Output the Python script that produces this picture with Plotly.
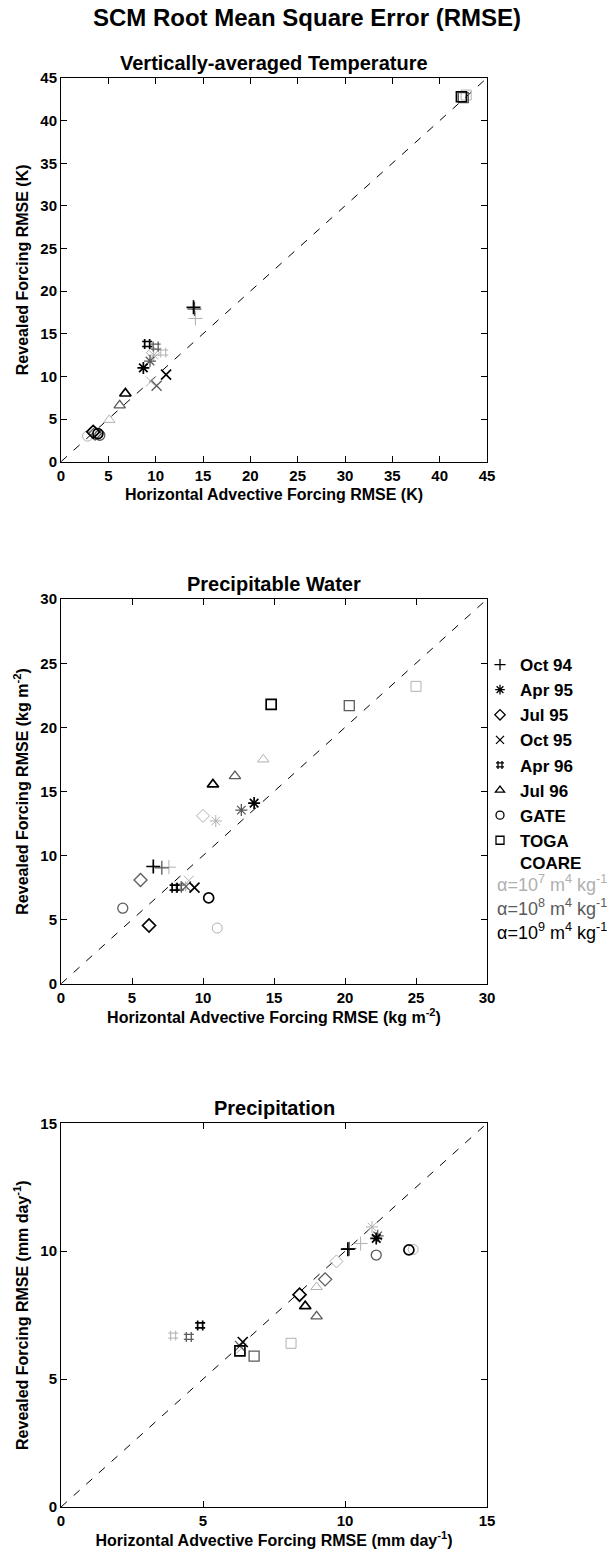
import plotly.graph_objects as go

# Cases shown in every panel (legend order) and their marker symbols
CASES = ["Oct 94", "Apr 95", "Jul 95", "Oct 95", "Apr 96", "Jul 96", "GATE", "TOGA<br>COARE"]
SYMBOLS = ["cross-thin-open", "asterisk-open", "diamond-open", "x-thin-open",
           "hash-open", "triangle-up-open", "circle-open", "square-open"]

# Vertically-averaged temperature RMSE (K): x = horizontal advective forcing, y = revealed forcing
temp_x_a7 = [14.2, 9.8, 9.7, 9.5, 10.8, 5.1, 2.8, 42.8]
temp_y_a7 = [16.8, 12.5, 12.8, 9.4, 12.8, 4.9, 3.0, 43.0]
temp_x_a8 = [14.1, 9.4, 3.6, 10.1, 10.0, 6.2, 4.1, 42.5]
temp_y_a8 = [17.9, 11.8, 3.3, 8.9, 13.5, 6.6, 3.1, 42.7]
temp_x_a9 = [14.0, 8.7, 3.4, 11.1, 9.1, 6.8, 3.9, 42.3]
temp_y_a9 = [18.1, 11.0, 3.5, 10.2, 13.8, 8.0, 3.3, 42.8]

# Precipitable water RMSE (kg m-2)
pw_x_a7 = [7.6, 10.9, 10.0, 9.0, 8.6, 14.25, 11.0, 25.0]
pw_y_a7 = [9.1, 12.7, 13.1, 8.05, 7.6, 17.5, 4.35, 23.2]
pw_x_a8 = [7.1, 12.7, 5.6, 8.8, 8.3, 12.25, 4.35, 20.3]
pw_y_a8 = [9.05, 13.55, 8.1, 7.6, 7.5, 16.2, 5.9, 21.7]
pw_x_a9 = [6.5, 13.6, 6.2, 9.4, 8.0, 10.7, 10.4, 14.8]
pw_y_a9 = [9.15, 14.1, 4.55, 7.5, 7.5, 15.55, 6.7, 21.8]

# Precipitation RMSE (mm day-1)
pr_x_a7 = [10.55, 10.95, 9.7, 6.35, 3.95, 9.0, 12.4, 8.1]
pr_y_a7 = [10.3, 10.95, 9.6, 6.2, 6.7, 8.6, 10.07, 6.4]
pr_x_a8 = [10.15, 11.15, 9.3, 6.3, 4.5, 9.0, 11.1, 6.8]
pr_y_a8 = [10.1, 10.6, 8.9, 6.3, 6.65, 7.45, 9.85, 5.9]
pr_x_a9 = [10.1, 11.1, 8.4, 6.4, 4.9, 8.6, 12.25, 6.3]
pr_y_a9 = [10.08, 10.5, 8.3, 6.45, 7.1, 7.85, 10.05, 6.1]

# Smoothing parameter levels
ALPHA_LABELS = ["α=10<sup>7</sup> m<sup>4</sup> kg<sup>-1</sup>",
                "α=10<sup>8</sup> m<sup>4</sup> kg<sup>-1</sup>",
                "α=10<sup>9</sup> m<sup>4</sup> kg<sup>-1</sup>"]
ALPHA_COLORS = ["#b0b0b0", "#5a5a5a", "#000000"]
ALPHA_WIDTHS = [1.0, 1.3, 1.7]

PANEL_TITLES = ["Vertically-averaged Temperature", "Precipitable Water", "Precipitation"]
UNITS = ["K", "kg m<sup>-2</sup>", "mm day<sup>-1</sup>"]
AXIS_MAX = [45, 30, 15]
TICK_STEP = 5

panels = [
    [(temp_x_a7, temp_y_a7), (temp_x_a8, temp_y_a8), (temp_x_a9, temp_y_a9)],
    [(pw_x_a7, pw_y_a7), (pw_x_a8, pw_y_a8), (pw_x_a9, pw_y_a9)],
    [(pr_x_a7, pr_y_a7), (pr_x_a8, pr_y_a8), (pr_x_a9, pr_y_a9)],
]

FONT = "Liberation Sans"
W, H = 614, 1558
ML, MR, MT, MB = 61, 127, 78, 46
DOMAINS = [[0.7315, 1.0], [0.3661, 0.6353], [0.0, 0.2685]]

fig = go.Figure()

for p, series in enumerate(panels):
    xa = "x" if p == 0 else f"x{p + 1}"
    ya = "y" if p == 0 else f"y{p + 1}"
    m = AXIS_MAX[p]
    # one-to-one reference line
    fig.add_trace(go.Scatter(x=[0, m], y=[0, m], mode="lines", xaxis=xa, yaxis=ya,
                             line=dict(color="black", width=1, dash="8px,9px"),
                             showlegend=False, hoverinfo="skip"))
    for a, (xs, ys) in enumerate(series):
        fig.add_trace(go.Scatter(
            x=xs, y=ys, mode="markers", xaxis=xa, yaxis=ya, showlegend=False,
            marker=dict(symbol=SYMBOLS, size=10, color=ALPHA_COLORS[a],
                        line=dict(color=ALPHA_COLORS[a], width=ALPHA_WIDTHS[a]))))

# legend entries for the cases
for i, (name, sym) in enumerate(zip(CASES, SYMBOLS)):
    fig.add_trace(go.Scatter(
        x=[None], y=[None], mode="markers", name=name, xaxis="x3", yaxis="y3",
        legendgroup=f"g{i}", showlegend=True,
        marker=dict(symbol=sym, size=8, color="black", line=dict(color="black", width=1.3))))

axis_common = dict(showline=True, linecolor="black", linewidth=1, mirror="ticks",
                   ticks="inside", ticklen=6, tickcolor="black", showgrid=False,
                   zeroline=False,
                   tickfont=dict(family=FONT, size=15, color="black", weight="bold"))

annotations = []
plot_w = W - ML - MR
for p in range(3):
    sfx = "" if p == 0 else str(p + 1)
    m = AXIS_MAX[p]
    tv = list(range(0, m + 1, TICK_STEP))
    tt = [f"<b>{v}</b>" for v in tv]
    fig.layout[f"xaxis{sfx}"] = dict(
        axis_common, range=[0, m], domain=[0, 1], anchor=f"y{sfx}",
        tickvals=tv, ticktext=tt,
        title=dict(text=f"<b>Horizontal Advective Forcing RMSE ({UNITS[p]})</b>",
                   font=dict(family=FONT, size=16, color="black"), standoff=6))
    fig.layout[f"yaxis{sfx}"] = dict(
        axis_common, range=[0, m], domain=DOMAINS[p], anchor=f"x{sfx}",
        tickvals=tv, ticktext=tt,
        title=dict(text=f"<b>Revealed Forcing RMSE ({UNITS[p]})</b>",
                   font=dict(family=FONT, size=16, color="black"), standoff=7))
    annotations.append(dict(text=f"<b>{PANEL_TITLES[p]}</b>", xref="paper", yref="paper",
                            x=0.5, y=DOMAINS[p][1], xanchor="center", yanchor="bottom",
                            yshift=2, showarrow=False,
                            font=dict(family=FONT, size=20, color="black")))

# alpha key below the case legend
for a, (lab, col) in enumerate(zip(ALPHA_LABELS, ALPHA_COLORS)):
    annotations.append(dict(text=lab, xref="paper", yref="paper",
                            x=(495 - ML) / plot_w, y=(H - MB - (886 + 24 * a)) / (H - MT - MB),
                            xanchor="left", yanchor="middle", showarrow=False,
                            font=dict(family=FONT, size=18, color=col)))

fig.update_layout(
    width=W, height=H, margin=dict(l=ML, r=MR, t=MT, b=MB),
    paper_bgcolor="white", plot_bgcolor="white",
    font=dict(family=FONT, color="black"),
    title=dict(text="<b>SCM Root Mean Square Error (RMSE)</b>", x=0.5, xref="container",
               xanchor="center", y=1 - 18 / H, yref="container", yanchor="middle",
               font=dict(family=FONT, size=24, color="black")),
    legend=dict(x=(480 - ML) / plot_w, xanchor="left",
                y=(H - MB - 649) / (H - MT - MB), yanchor="top",
                font=dict(family=FONT, size=17, color="black", weight="bold"),
                tracegroupgap=0, valign="top", bgcolor="rgba(0,0,0,0)"),
    annotations=annotations,
)

fig.write_html("out.html")
